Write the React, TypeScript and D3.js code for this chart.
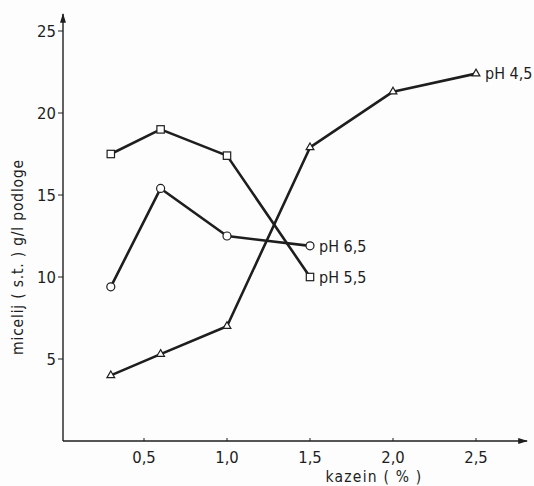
import React, { useEffect, useRef } from 'react';
import * as d3 from 'd3';

// kazein (%) on x, micelij (s.t.) g/l podloge on y
const xTicks = [0.5, 1.0, 1.5, 2.0, 2.5];
const yTicks = [5, 10, 15, 20, 25];

const kazein45 = [0.3, 0.6, 1.0, 1.5, 2.0, 2.5];
const micelij45 = [4.0, 5.3, 7.0, 17.9, 21.3, 22.4];

const kazein55 = [0.3, 0.6, 1.0, 1.5];
const micelij55 = [17.5, 19.0, 17.4, 10.0];

const kazein65 = [0.3, 0.6, 1.0, 1.5];
const micelij65 = [9.4, 15.4, 12.5, 11.9];

const seriesLabels = ['pH 4,5', 'pH 5,5', 'pH 6,5'];

const W = 534;
const H = 486;
const margin = { top: 14, right: 7, bottom: 46, left: 61 };
const font = '"DejaVu Sans Condensed", "DejaVu Sans", sans-serif';
const ink = '#1e1e1e';

export default function App() {
  const ref = useRef<SVGSVGElement>(null);

  useEffect(() => {
    const svg = d3.select(ref.current);
    svg.selectAll('*').remove();

    const x = d3.scaleLinear().domain([0, 2.8]).range([margin.left, margin.left + 166 * 2.8]);
    const y = d3.scaleLinear().domain([0, 25]).range([441, 441 - 16.4 * 25]);

    svg.append('rect').attr('width', W).attr('height', H).attr('fill', '#fdfdfd');

    // axes drawn by hand with arrows
    svg.append('defs').append('marker')
      .attr('id', 'arr').attr('viewBox', '0 0 10 10').attr('refX', 9).attr('refY', 5)
      .attr('markerWidth', 7).attr('markerHeight', 7).attr('orient', 'auto')
      .append('path').attr('d', 'M0,2 L10,5 L0,8 Z').attr('fill', ink);

    const x0 = x(0.0) + 2;
    svg.append('line').attr('x1', x0).attr('y1', y(0)).attr('x2', x0).attr('y2', margin.top)
      .attr('stroke', ink).attr('stroke-width', 1.4).attr('marker-end', 'url(#arr)');
    svg.append('line').attr('x1', x0).attr('y1', y(0)).attr('x2', W - margin.right).attr('y2', y(0))
      .attr('stroke', ink).attr('stroke-width', 1.4).attr('marker-end', 'url(#arr)');

    const yAxis = svg.append('g');
    yTicks.forEach(t => {
      yAxis.append('line').attr('x1', x0 - 5).attr('x2', x0).attr('y1', y(t)).attr('y2', y(t))
        .attr('stroke', ink).attr('stroke-width', 1);
      yAxis.append('text').attr('x', x0 - 7).attr('y', y(t)).attr('dy', '0.36em')
        .attr('text-anchor', 'end').attr('font-size', 16.5).attr('font-family', font)
        .attr('fill', ink).text(String(t));
    });

    const xAxis = svg.append('g');
    xTicks.forEach(t => {
      xAxis.append('line').attr('x1', x(t)).attr('x2', x(t)).attr('y1', y(0)).attr('y2', y(0) - 3)
        .attr('stroke', ink).attr('stroke-width', 1);
      xAxis.append('text').attr('x', x(t)).attr('y', 463)
        .attr('text-anchor', 'middle').attr('font-size', 16.5).attr('font-family', font)
        .attr('fill', ink).text(t.toFixed(1).replace('.', ','));
    });

    svg.append('text').attr('x', 374).attr('y', 482).attr('text-anchor', 'middle')
      .attr('font-size', 15.5).attr('font-family', font).attr('fill', ink)
      .attr('letter-spacing', 1.2).text('kazein  ( % )');

    svg.append('text').attr('transform', 'translate(23,257) rotate(-90)').attr('text-anchor', 'middle')
      .attr('font-size', 15.5).attr('font-family', font).attr('fill', ink)
      .attr('letter-spacing', 0.8).text('micelij  ( s.t. )  g/l   podloge');

    const line = d3.line<[number, number]>().x(d => x(d[0])).y(d => y(d[1]));
    const zip = (a: number[], b: number[]) => a.map((v, i) => [v, b[i]] as [number, number]);

    const s45 = zip(kazein45, micelij45);
    const s55 = zip(kazein55, micelij55);
    const s65 = zip(kazein65, micelij65);

    [s45, s55, s65].forEach(s => {
      svg.append('path').datum(s).attr('d', line).attr('fill', 'none')
        .attr('stroke', ink).attr('stroke-width', 2.6).attr('stroke-linejoin', 'round');
    });

    // markers
    svg.append('g').selectAll('path').data(s45).join('path')
      .attr('d', d3.symbol().type(d3.symbolTriangle).size(26))
      .attr('transform', d => `translate(${x(d[0])},${y(d[1])})`)
      .attr('fill', '#fff').attr('stroke', ink).attr('stroke-width', 1.2);
    svg.append('g').selectAll('rect').data(s55).join('rect')
      .attr('x', d => x(d[0]) - 3.7).attr('y', d => y(d[1]) - 3.7).attr('width', 7.4).attr('height', 7.4)
      .attr('fill', '#fff').attr('stroke', ink).attr('stroke-width', 1.2);
    svg.append('g').selectAll('circle').data(s65).join('circle')
      .attr('cx', d => x(d[0])).attr('cy', d => y(d[1])).attr('r', 4)
      .attr('fill', '#fff').attr('stroke', ink).attr('stroke-width', 1.2);

    // series labels
    const lastOf = (s: [number, number][]) => s[s.length - 1];
    const labelPos: [[number, number], string][] = [
      [lastOf(s45), seriesLabels[0]],
      [lastOf(s55), seriesLabels[1]],
      [lastOf(s65), seriesLabels[2]],
    ];
    labelPos.forEach(([p, txt]) => {
      svg.append('text').attr('x', x(p[0]) + 9).attr('y', y(p[1])).attr('dy', '0.36em')
        .attr('font-size', 16).attr('font-family', font).attr('fill', ink).text(txt);
    });
  }, []);

  return (
    <svg ref={ref} width={W} height={H} style={{ display: 'block', position: 'absolute', left: 0, top: 0 }} />
  );
}
